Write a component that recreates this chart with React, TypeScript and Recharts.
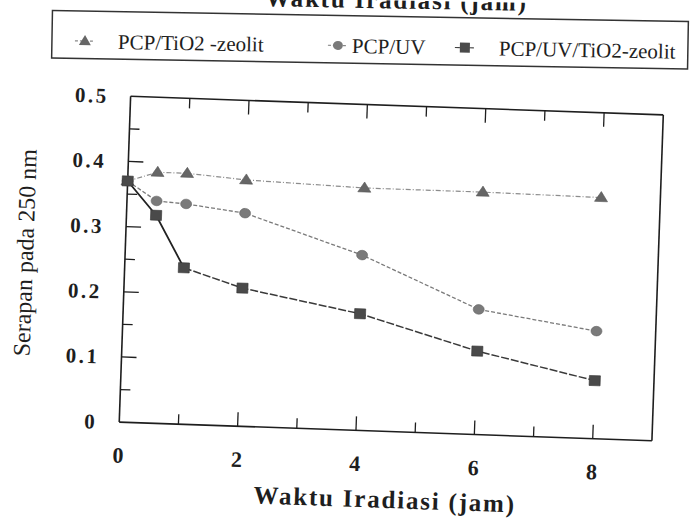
import { LineChart, Line, XAxis, YAxis } from "recharts";

const hours = [0, 0.5, 1, 2, 4, 6, 8];
const tio2Zeolit = [0.37, 0.385, 0.385, 0.378, 0.372, 0.372, 0.37];
const uvOnly = [0.37, 0.341, 0.338, 0.327, 0.269, 0.192, 0.165];
const uvTio2Zeolit = [0.37, 0.319, 0.24, 0.212, 0.179, 0.128, 0.089];

const xTicks = [0, 1, 2, 3, 4, 5, 6, 7, 8];
const yTicks = [0, 0.05, 0.1, 0.15, 0.2, 0.25, 0.3, 0.35, 0.4, 0.45, 0.5];

const seriesNames = ["PCP/TiO2 -zeolit", "PCP/UV", "PCP/UV/TiO2-zeolit"];
const xTitle = "Waktu Iradiasi (jam)";
const yTitle = "Serapan pada 250 nm";

// the solid part of the square series runs up to this index
const solidUntil = 2;

const data = hours.map((h, i) => ({
  x: h,
  tri: tio2Zeolit[i],
  circ: uvOnly[i],
  sq: uvTio2Zeolit[i],
  sqHead: i <= solidUntil ? uvTio2Zeolit[i] : null,
  sqTail: i >= solidUntil ? uvTio2Zeolit[i] : null,
}));

const serif = "'Liberation Serif', 'Times New Roman', serif";
const ink = "#1e1e1e";
const legendFont = { fontFamily: serif, fontSize: 21, fontWeight: "normal" as const };

const isMajorY = (v: number) => Math.round(v * 100) % 10 === 0;

const BottomTick = (props: any) => {
  const { x, y, payload } = props;
  const v = payload.value;
  const major = v % 2 === 0;
  return (
    <g>
      {v > 0 && (
        <line x1={x} y1={y} x2={x} y2={y - (major ? 14 : 10)} stroke={ink} strokeWidth={1.3} />
      )}
      {major && (
        <text x={x} y={y + 33} dy="0.35em" textAnchor="middle"
          style={{ fontFamily: serif, fontSize: 22, fontWeight: "bold" }} fill={ink}>
          {v}
        </text>
      )}
    </g>
  );
};

const TopTick = (props: any) => {
  const { x, y, payload } = props;
  const v = payload.value;
  if (v <= 0) return <g />;
  const major = v % 2 === 0;
  return <line x1={x} y1={y} x2={x} y2={y + (major ? 14 : 10)} stroke={ink} strokeWidth={1.3} />;
};

const LeftTick = (props: any) => {
  const { x, y, payload } = props;
  const v = payload.value;
  const major = isMajorY(v);
  return (
    <g>
      {v > 0 && v < 0.5 && (
        <line x1={x} y1={y} x2={x + (major ? 15 : 10)} y2={y} stroke={ink} strokeWidth={1.3} />
      )}
      {major && (
        <text x={x - 22} y={y} dy="0.35em" textAnchor="end"
          style={{ fontFamily: serif, fontSize: 21, fontWeight: "bold", letterSpacing: 2.5 }} fill={ink}>
          {v === 0 ? "0" : v.toFixed(1)}
        </text>
      )}
    </g>
  );
};

const RightTick = (props: any) => {
  const { x, y, payload } = props;
  const v = payload.value;
  if (v <= 0 || v >= 0.5) return <g />;
  return <line x1={x} y1={y} x2={x - (isMajorY(v) ? 15 : 11)} y2={y} stroke={ink} strokeWidth={1.3} />;
};

const TriangleDot = (props: any) => {
  const { cx, cy, index } = props;
  if (cx == null || cy == null) return <g key={index} />;
  return (
    <polygon key={index} points={`${cx},${cy - 6} ${cx - 6.5},${cy + 4} ${cx + 6.5},${cy + 4}`}
      fill="#666" stroke="#555" strokeWidth={0.6} />
  );
};

const CircleDot = (props: any) => {
  const { cx, cy, index } = props;
  if (cx == null || cy == null) return <g key={index} />;
  return <ellipse key={index} cx={cx} cy={cy} rx={5.5} ry={4.8} fill="#7a7a7a" stroke="#666" strokeWidth={0.6} />;
};

const SquareDot = (props: any) => {
  const { cx, cy, index } = props;
  if (cx == null || cy == null) return <g key={index} />;
  return <rect key={index} x={cx - 5.5} y={cy - 5} width={11} height={10} fill="#4a4a4a" stroke="#333" strokeWidth={0.6} />;
};

function LegendLayer() {
  const items = [
    { mx: 85, tx: 118, dot: <polygon points="85,40 79,50 91,50" fill="#666" />, dash: "3 2", color: "#888" },
    { mx: 338, tx: 352, dot: <ellipse cx={338} cy={46} rx={5} ry={4.5} fill="#7a7a7a" />, dash: "3 2", color: "#888" },
    { mx: 465, tx: 499, dot: <rect x={460} y={41} width={10} height={10} fill="#4a4a4a" />, dash: "5 2", color: "#444" },
  ];
  return (
    <svg width={696} height={80} style={{ position: "absolute", left: 0, top: 0, transform: "rotate(1deg)", transformOrigin: "370px 40px" }}>
      <text x={527} y={8} textAnchor="end" style={{ fontFamily: serif, fontSize: 25, fontWeight: "bold", letterSpacing: 1.8 }} fill={ink}>
        {xTitle}
      </text>
      <rect x={52} y={16} width={636} height={47.5} fill="none" stroke="#333" strokeWidth={1.5} />
      {items.map((it, i) => (
        <g key={seriesNames[i]}>
          <line x1={it.mx - 10} y1={46} x2={it.mx + 10} y2={46} stroke={it.color} strokeWidth={1.2} strokeDasharray={it.dash} />
          {it.dot}
          <text x={it.tx} y={46} dy="0.35em" style={legendFont} fill={ink}>
            {seriesNames[i]}
          </text>
        </g>
      ))}
    </svg>
  );
}

export default function App() {
  return (
    <div style={{ position: "absolute", left: 0, top: 0, width: 696, height: 522, background: "#fff", overflow: "hidden" }}>
      <LegendLayer />
      <div style={{ position: "absolute", left: 0, top: 0, width: 696, height: 522, transform: "rotate(2deg)", transformOrigin: "348px 261px" }}>
        <LineChart width={696} height={522} data={data} margin={{ top: 103, right: 37, bottom: 91, left: 124 }}>
          <XAxis dataKey="x" type="number" domain={[0, 9]} ticks={xTicks} interval={0} height={1}
            tickSize={0} tickMargin={0} tickLine={false} tick={BottomTick}
            axisLine={{ stroke: ink, strokeWidth: 1.6 }} />
          <XAxis xAxisId="top" orientation="top" dataKey="x" type="number" domain={[0, 9]}
            ticks={xTicks} interval={0} height={1} tickSize={0} tickMargin={0} tickLine={false}
            tick={TopTick} axisLine={{ stroke: ink, strokeWidth: 1.6 }} />
          <YAxis type="number" domain={[0, 0.5]} ticks={yTicks} interval={0} width={1}
            tickSize={0} tickMargin={0} tickLine={false} tick={LeftTick}
            axisLine={{ stroke: ink, strokeWidth: 1.6 }} />
          <YAxis yAxisId="right" orientation="right" type="number" domain={[0, 0.5]} ticks={yTicks}
            interval={0} width={1} tickSize={0} tickMargin={0} tickLine={false} tick={RightTick}
            axisLine={{ stroke: ink, strokeWidth: 1.6 }} />
          <Line dataKey="tri" stroke="#8c8c8c" strokeWidth={1.2} strokeDasharray="5 2 1 2"
            dot={TriangleDot} activeDot={false} isAnimationActive={false} />
          <Line dataKey="circ" stroke="#7a7a7a" strokeWidth={1.3} strokeDasharray="4 2"
            dot={CircleDot} activeDot={false} isAnimationActive={false} />
          <Line dataKey="sqHead" stroke="#222" strokeWidth={1.8} dot={false} activeDot={false}
            isAnimationActive={false} />
          <Line dataKey="sqTail" stroke="#3a3a3a" strokeWidth={1.5} strokeDasharray="8 2"
            dot={false} activeDot={false} isAnimationActive={false} />
          <Line dataKey="sq" stroke="none" dot={SquareDot} activeDot={false} isAnimationActive={false} />
        </LineChart>
        <div style={{ position: "absolute", left: 393, top: 498, transform: "translate(-50%, -50%)",
          fontFamily: serif, fontWeight: "bold", fontSize: 25, letterSpacing: 1.8, whiteSpace: "nowrap",
          lineHeight: 1, color: ink }}>
          {xTitle}
        </div>
        <div style={{ position: "absolute", left: 25, top: 264, transform: "translate(-50%, -50%) rotate(-90deg)",
          fontFamily: serif, fontSize: 24, whiteSpace: "nowrap", lineHeight: 1, color: ink }}>
          {yTitle}
        </div>
      </div>
    </div>
  );
}
